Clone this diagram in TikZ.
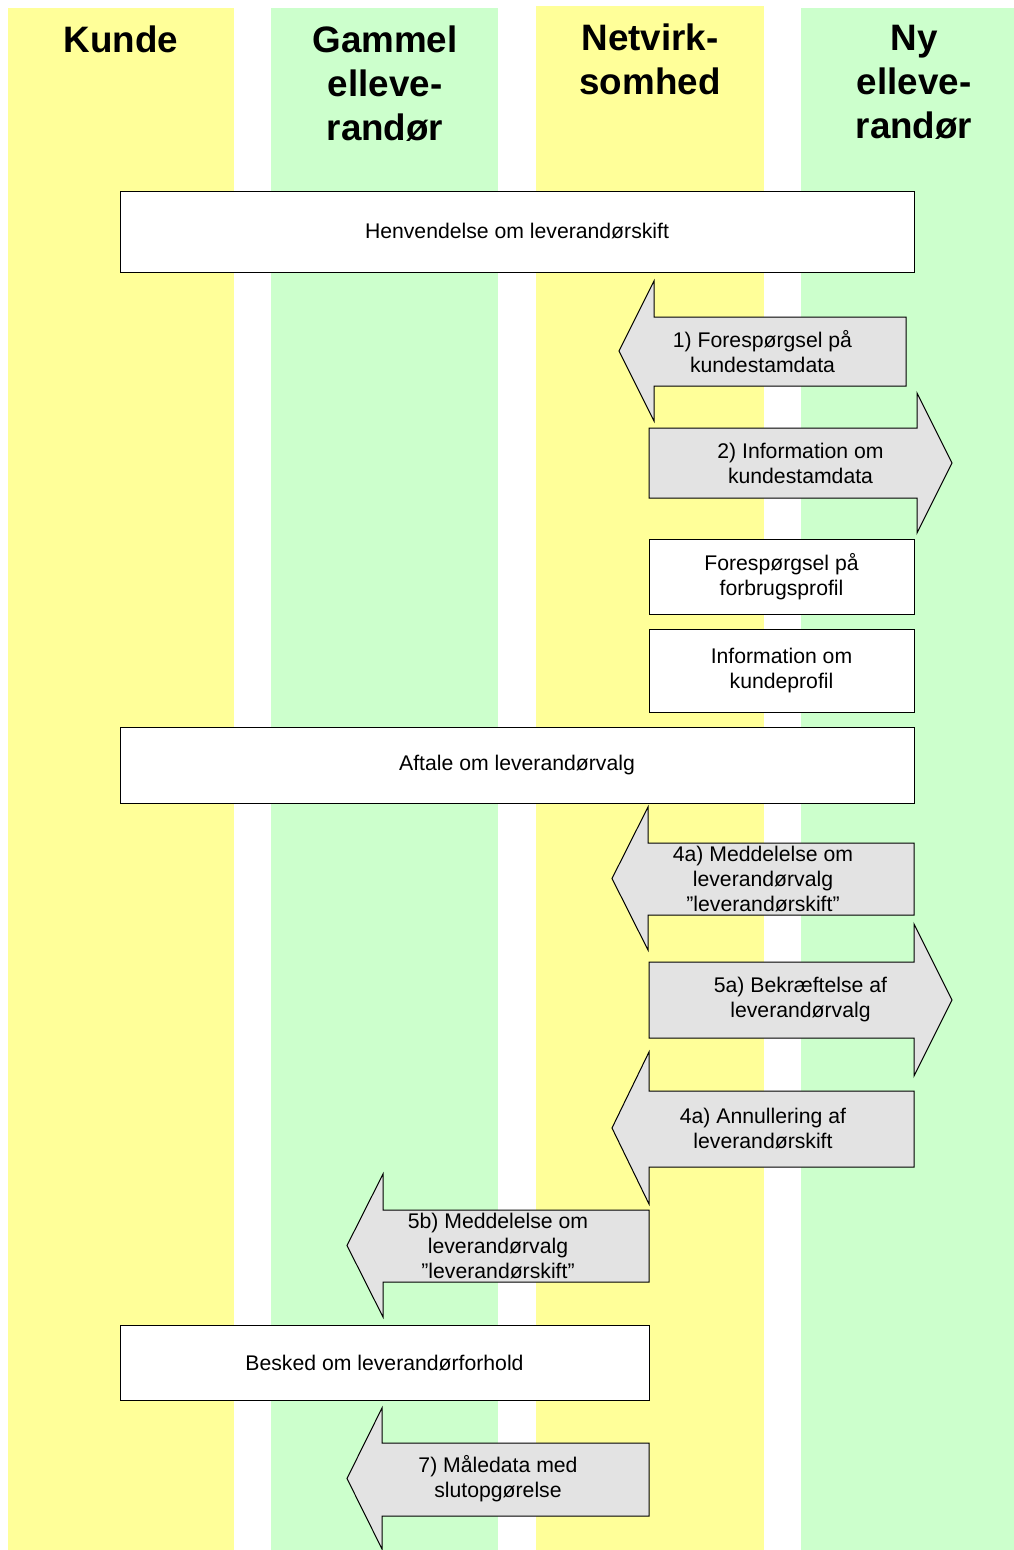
\documentclass[tikz,border=0pt]{standalone}
\usepackage{fontspec}
\setmainfont{Liberation Sans}

\definecolor{laneyellow}{HTML}{FFFF99}
\definecolor{lanegreen}{HTML}{CCFFCC}
\definecolor{msggray}{HTML}{E3E3E3}

\begin{document}
\begin{tikzpicture}[x=1pt, y=-1pt, line width=1pt,
    lanetitle/.style={anchor=north, inner sep=0pt, align=center,
        font=\fontsize{36.8}{44}\selectfont\bfseries},
    msgtext/.style={inner sep=0pt, align=center,
        font=\fontsize{21.2}{25}\selectfont},
    msgbox/.style={msgtext, draw=black, fill=white},
    msgarrow/.style={draw=black, fill=msggray, line join=miter}]

\useasboundingbox[fill=white] (0,0) rectangle (1014,1550);

% swimlanes
\fill[laneyellow] (8, 8) rectangle (234, 1550);
\fill[lanegreen] (271, 8) rectangle (498, 1550);
\fill[laneyellow] (536, 6) rectangle (764, 1550);
\fill[lanegreen] (801, 8) rectangle (1014, 1550);

\node[lanetitle] (kunde) at (121, 25) {Kunde};
\node[lanetitle] (gammel) at (385, 25) {Gammel\\elleve-\\randør};
\node[lanetitle] (netvirk) at (650, 23) {Netvirk-\\somhed};
\node[lanetitle] (ny) at (914, 25) {Ny\\elleve-\\randør};

% boxes
\node[msgbox, minimum width=794pt, minimum height=81pt] (henv) at (517, 231.5) {Henvendelse om leverandørskift};
\node[msgbox, minimum width=265pt, minimum height=75pt] (forbrug) at (781.5, 576.5) {Forespørgsel på\\forbrugsprofil};
\node[msgbox, minimum width=265pt, minimum height=83pt] (kprofil) at (781.5, 670.5) {Information om\\kundeprofil};
\node[msgbox, minimum width=794pt, minimum height=76pt] (aftale) at (517, 765) {Aftale om leverandørvalg};
\node[msgbox, minimum width=529pt, minimum height=75pt] (besked) at (384.5, 1362.5) {Besked om leverandørforhold};

% message arrows
\draw[msgarrow] (619,351) -- (654,281) -- (654,317) -- (906,317) -- (906,386) -- (654,386) -- (654,421) -- cycle;
\node[msgtext] (m1) at (762.5, 351.5) {1) Forespørgsel på\\kundestamdata};

\draw[msgarrow] (649,428) -- (917,428) -- (917,393) -- (952,463) -- (917,533) -- (917,498) -- (649,498) -- cycle;
\node[msgtext] (m2) at (800.5, 463) {2) Information om\\kundestamdata};

\draw[msgarrow] (612,878.5) -- (648,807) -- (648,843) -- (914,843) -- (914,915) -- (648,915) -- (648,950) -- cycle;
\node[msgtext] (m4a) at (763, 879) {4a) Meddelelse om\\leverandørvalg\\”leverandørskift”};

\draw[msgarrow] (649,962) -- (914,962) -- (914,924) -- (952,1000) -- (914,1076) -- (914,1038) -- (649,1038) -- cycle;
\node[msgtext] (m5a) at (800.5, 1000) {5a) Bekræftelse af\\leverandørvalg};

\draw[msgarrow] (612,1128) -- (649,1052) -- (649,1091) -- (914,1091) -- (914,1167) -- (649,1167) -- (649,1204) -- cycle;
\node[msgtext] (annul) at (763, 1129) {4a) Annullering af\\leverandørskift};

\draw[msgarrow] (347,1245.5) -- (383,1174) -- (383,1210) -- (649,1210) -- (649,1282) -- (383,1282) -- (383,1317) -- cycle;
\node[msgtext] (m5b) at (498, 1246) {5b) Meddelelse om\\leverandørvalg\\”leverandørskift”};

\draw[msgarrow] (347,1478.5) -- (382,1408) -- (382,1443) -- (649,1443) -- (649,1516) -- (382,1516) -- (382,1549) -- cycle;
\node[msgtext] (m7) at (498, 1479) {7) Måledata med\\slutopgørelse};

\end{tikzpicture}
\end{document}
